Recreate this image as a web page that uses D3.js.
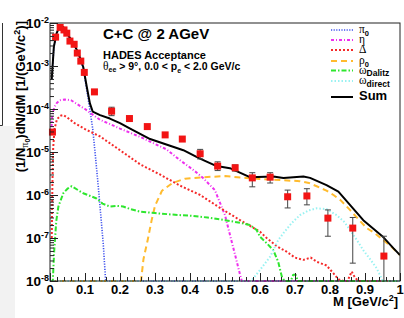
<!DOCTYPE html>
<html>
<head>
<meta charset="utf-8">
<script src="https://cdn.jsdelivr.net/npm/d3@7"></script>
<style>
  body { margin: 0; background: #fff; }
  svg { display: block; font-family: "Liberation Sans", Arial, Helvetica, sans-serif; font-weight: bold; }
  .gr { font-family: "Liberation Serif", "DejaVu Serif", serif; font-weight: normal; }
</style>
</head>
<body>
<svg id="chart" width="404" height="318"></svg>
<script>
'use strict';

// axis ticks
var xMajor = [0, 0.1, 0.2, 0.3, 0.4, 0.5, 0.6, 0.7, 0.8, 0.9, 1.0];
var yMajor = [1e-8, 1e-7, 1e-6, 1e-5, 1e-4, 1e-3, 1e-2];
var yExp   = ['-8', '-7', '-6', '-5', '-4', '-3', '-2'];

// measured spectrum (red squares)
var dataM  = [0.007, 0.016, 0.029, 0.040, 0.048, 0.057, 0.069, 0.078, 0.088, 0.098, 0.127, 0.176, 0.227,
              0.278, 0.329, 0.378, 0.429, 0.479, 0.529, 0.578, 0.629, 0.679, 0.734, 0.794, 0.865, 0.954];
var dataV  = [2.9e-5, 4.7e-3, 7.9e-3, 6.9e-3, 5.8e-3, 3.8e-3, 3.2e-3, 2.0e-3, 1.3e-3, 7.1e-4, 2.5e-4, 8.9e-5, 6.0e-5,
              3.9e-5, 2.5e-5, 2.0e-5, 9.1e-6, 4.7e-6, 4.3e-6, 2.5e-6, 2.6e-6, 9.1e-7, 9.5e-7, 2.9e-7, 1.7e-7, 3.8e-8];
var dataLo = [2.9e-5, 4.7e-3, 7.9e-3, 6.9e-3, 5.8e-3, 3.8e-3, 3.2e-3, 2.0e-3, 1.3e-3, 7.1e-4, 2.5e-4, 7.0e-5, 6.0e-5,
              3.9e-5, 2.5e-5, 2.0e-5, 6.9e-6, 3.7e-6, 3.6e-6, 1.55e-6, 1.9e-6, 5.0e-7, 5.9e-7, 1.1e-7, 2.6e-8, 1e-9];
var dataHi = [2.9e-5, 4.7e-3, 7.9e-3, 6.9e-3, 5.8e-3, 3.8e-3, 3.2e-3, 2.0e-3, 1.3e-3, 7.1e-4, 2.5e-4, 1.1e-4, 6.0e-5,
              3.9e-5, 2.5e-5, 2.0e-5, 1.15e-5, 5.9e-6, 5.0e-6, 3.3e-6, 3.3e-6, 1.3e-6, 1.4e-6, 4.5e-7, 3.0e-7, 1.1e-7];

// cocktail components
var pi0M = [0.005, 0.011, 0.019, 0.027, 0.038, 0.052, 0.067, 0.081, 0.095, 0.105, 0.114, 0.122, 0.129, 0.138, 0.152, 0.159, 1.0];
var pi0V = [4.9e-4, 2.75e-3, 5.6e-3, 7.9e-3, 7.9e-3, 5.1e-3, 3.3e-3, 1.95e-3, 8.9e-4, 2.8e-4, 9.5e-5, 3.5e-5, 9.3e-6, 1.55e-6, 7.6e-8, 1e-8, 1e-8];

var etaM = [0.003, 0.006, 0.012, 0.02, 0.03, 0.043, 0.06, 0.08, 0.1, 0.12, 0.143, 0.17, 0.2, 0.229, 0.26, 0.286,
            0.333, 0.371, 0.41, 0.437, 0.471, 0.5, 0.514, 0.529, 0.543, 0.548, 1.0];
var etaV = [2.5e-5, 6.3e-5, 1.1e-4, 1.4e-4, 1.6e-4, 1.66e-4, 1.6e-4, 1.26e-4, 1.0e-4, 7.6e-5, 5.6e-5, 4.5e-5, 3.5e-5, 2.8e-5, 2.2e-5, 1.74e-5,
            1.15e-5, 6.5e-6, 3.8e-6, 2.5e-6, 1.3e-6, 3.4e-7, 1.2e-7, 4e-8, 1.4e-8, 1e-8, 1e-8];

var deltaM = [0.005, 0.007, 0.009, 0.013, 0.02, 0.03, 0.038, 0.05, 0.07, 0.1, 0.143, 0.2, 0.257, 0.314, 0.371, 0.429,
              0.486, 0.543, 0.6, 0.619, 0.65, 0.676, 0.7, 0.724, 0.745, 0.762, 0.79, 0.81, 0.824, 0.838, 0.85, 0.862, 0.87, 0.88, 1.0];
var deltaV = [1e-7, 2e-6, 1.2e-5, 3.5e-5, 5.8e-5, 7.0e-5, 7.2e-5, 6.3e-5, 4.7e-5, 3.4e-5, 2.3e-5, 1.1e-5, 5.2e-6, 3.0e-6, 1.66e-6, 1.0e-6,
              5.0e-7, 2.6e-7, 1.4e-7, 1.0e-7, 6.3e-8, 4.8e-8, 3.5e-8, 3.1e-8, 3.5e-8, 2.8e-8, 2.3e-8, 1.5e-8, 1.1e-8, 1e-8, 1e-8, 1.66e-8, 1.26e-8, 1e-8, 1e-8];

var rhoM = [0.0, 0.26, 0.267, 0.279, 0.29, 0.3, 0.32, 0.35, 0.386, 0.44, 0.5, 0.56, 0.6, 0.667, 0.714, 0.74, 0.762,
            0.79, 0.81, 0.83, 0.857, 0.88, 0.905, 0.93, 0.952, 0.975, 1.0];
var rhoV = [1e-8, 1e-8, 3.2e-8, 8.9e-8, 2.5e-7, 5.6e-7, 1.26e-6, 1.9e-6, 2.4e-6, 2.6e-6, 2.75e-6, 2.5e-6, 2.35e-6, 2.2e-6, 2.1e-6, 1.9e-6, 1.6e-6,
            1.26e-6, 1.0e-6, 7.6e-7, 4.5e-7, 2.8e-7, 1.7e-7, 1.26e-7, 8.9e-8, 6.3e-8, 4.0e-8];

var omDalM = [0.0, 0.008, 0.012, 0.018, 0.024, 0.038, 0.05, 0.062, 0.08, 0.095, 0.115, 0.133, 0.15, 0.171, 0.19, 0.209, 0.23, 0.257,
              0.3, 0.35, 0.4, 0.45, 0.5, 0.55, 0.571, 0.59, 0.6, 0.619, 0.638, 0.652, 0.662, 0.67, 0.688, 0.695, 0.702, 0.708, 1.0];
var omDalV = [1e-8, 1e-8, 5e-8, 2.5e-7, 5.4e-7, 1.1e-6, 1.4e-6, 1.6e-6, 1.3e-6, 1.1e-6, 9.5e-7, 8.3e-7, 6.3e-7, 5.4e-7, 5.6e-7, 5.4e-7, 4.7e-7, 4.1e-7,
              3.8e-7, 3.5e-7, 3.3e-7, 3.0e-7, 2.6e-7, 2.2e-7, 2.0e-7, 1.55e-7, 1.07e-7, 7.6e-8, 5.2e-8, 2.8e-8, 1.3e-8, 1e-8, 1e-8, 1.4e-8, 1.4e-8, 1e-8, 1e-8];

var omDirM = [0.0, 0.575, 0.6, 0.629, 0.652, 0.667, 0.69, 0.714, 0.74, 0.762, 0.79, 0.819, 0.84, 0.857, 0.877, 0.895, 0.915, 0.933, 0.945, 0.95, 1.0];
var omDirV = [1e-8, 1e-8, 1.8e-8, 3.7e-8, 8.9e-8, 1.3e-7, 2.2e-7, 3.4e-7, 4.4e-7, 4.9e-7, 4.7e-7, 3.4e-7, 2.4e-7, 1.55e-7, 8.9e-8, 5.2e-8, 3.2e-8, 2.0e-8, 1.26e-8, 1e-8, 1e-8];

var sumM = [0.005, 0.011, 0.019, 0.027, 0.038, 0.052, 0.067, 0.081, 0.095, 0.105, 0.114, 0.122, 0.143, 0.171, 0.2, 0.229, 0.286,
            0.343, 0.381, 0.427, 0.476, 0.514, 0.571, 0.638, 0.667, 0.724, 0.743, 0.79, 0.824, 0.857, 0.895, 0.952, 0.981, 1.0];
var sumV = [5.0e-4, 2.8e-3, 5.8e-3, 8.1e-3, 8.1e-3, 5.2e-3, 3.4e-3, 2.0e-3, 9.5e-4, 3.3e-4, 1.35e-4, 8.7e-5, 7.2e-5, 6.0e-5, 4.7e-5, 3.5e-5, 2.0e-5,
            1.4e-5, 1.1e-5, 7.1e-6, 4.7e-6, 4.2e-6, 2.6e-6, 2.7e-6, 2.5e-6, 2.7e-6, 2.5e-6, 1.7e-6, 1.2e-6, 5.9e-7, 2.6e-7, 1.05e-7, 5.8e-8, 4.0e-8];

var series = [
  { m: pi0M,   v: pi0V,   color: '#3f52ee', width: 1.6, dash: '1.2,1.4',   label: ['\u03c0', '0'],      ly: 30 },
  { m: etaM,   v: etaV,   color: '#ee30ee', width: 2,   dash: '3,2,1,2',   label: ['\u03b7', ''],        ly: 40 },
  { m: deltaM, v: deltaV, color: '#f52a2a', width: 2,   dash: '2,2',       label: ['\u0394', ''],        ly: 50 },
  { m: rhoM,   v: rhoV,   color: '#ffbb2e', width: 2,   dash: '6,4',       label: ['\u03c1', '0'],      ly: 61 },
  { m: omDalM, v: omDalV, color: '#2ee62e', width: 2,   dash: '5,2,1.5,2', label: ['\u03c9', 'Dalitz'], ly: 70.5 },
  { m: omDirM, v: omDirV, color: '#99f2f2', width: 2,   dash: '1.5,2',     label: ['\u03c9', 'direct'], ly: 81 },
  { m: sumM,   v: sumV,   color: '#000',    width: 2,   dash: null,        label: ['Sum', ''],           ly: 97 }
];

var L = 50, R = 400, T = 23, B = 281;
var x = d3.scaleLinear().domain([0, 1]).range([L, R]);
var y = d3.scaleLog().domain([1e-8, 1e-2]).range([B, T]);

var svg = d3.select('#chart');

// bits of the neighbouring canvas left in the screenshot
svg.append('rect').attr('x', 0).attr('y', 126).attr('width', 15).attr('height', 192).attr('fill', '#f2f2f2');
svg.append('path').attr('d', 'M0,125.5H2.5V23').attr('fill', 'none').attr('stroke', '#333');

svg.append('clipPath').attr('id', 'plot').append('rect')
  .attr('x', L).attr('y', T - 1).attr('width', R - L).attr('height', B - T + 2);

var line = d3.line()
  .x(function(d) { return x(d[0]); })
  .y(function(d) { return y(Math.max(d[1], 1e-8)); });

var curves = svg.append('g').attr('clip-path', 'url(#plot)');
curves.selectAll('path.curve').data(series).enter().append('path')
  .attr('class', 'curve')
  .attr('d', function(s) { return line(s.m.map(function(m, i) { return [m, s.v[i]]; })); })
  .attr('fill', 'none')
  .attr('stroke', function(s) { return s.color; })
  .attr('stroke-width', function(s) { return s.width; })
  .attr('stroke-dasharray', function(s) { return s.dash; })
  .attr('stroke-linejoin', 'round');

// error bars
var pts = dataM.map(function(m, i) { return { m: m, v: dataV[i], lo: dataLo[i], hi: dataHi[i] }; });
var bars = curves.selectAll('g.err').data(pts.filter(function(p) { return p.hi > p.v; }))
  .enter().append('g').attr('class', 'err').attr('stroke', '#444').attr('stroke-width', 1);
bars.append('line')
  .attr('x1', function(p) { return x(p.m); }).attr('x2', function(p) { return x(p.m); })
  .attr('y1', function(p) { return y(p.hi); }).attr('y2', function(p) { return y(Math.max(p.lo, 1e-9)); });
bars.append('line')
  .attr('x1', function(p) { return x(p.m) - 3; }).attr('x2', function(p) { return x(p.m) + 3; })
  .attr('y1', function(p) { return y(p.hi); }).attr('y2', function(p) { return y(p.hi); });
bars.filter(function(p) { return p.lo > 1e-8; }).append('line')
  .attr('x1', function(p) { return x(p.m) - 3; }).attr('x2', function(p) { return x(p.m) + 3; })
  .attr('y1', function(p) { return y(p.lo); }).attr('y2', function(p) { return y(p.lo); });

svg.selectAll('rect.pt').data(pts).enter().append('rect')
  .attr('class', 'pt')
  .attr('x', function(p) { return x(p.m) - 3.5; })
  .attr('y', function(p) { return y(p.v) - 3.5; })
  .attr('width', 7).attr('height', 7)
  .attr('fill', '#f21414');

// frame and ticks
svg.append('rect').attr('x', L).attr('y', T).attr('width', R - L).attr('height', B - T)
  .attr('fill', 'none').attr('stroke', '#222').attr('stroke-width', 1);

var xMinor = d3.range(0, 50).map(function(i) { return i * 0.02; }).filter(function(v, i) { return i % 5; });
var yMinor = [];
yMajor.slice(0, -1).forEach(function(d) { for (var k = 2; k < 10; k++) yMinor.push(d * k); });

function ticks(axis, tr) {
  var g = svg.append('g').attr('transform', tr).call(axis);
  g.select('.domain').remove();
  g.selectAll('line').attr('stroke', '#222');
}
ticks(d3.axisTop(x).tickValues(xMajor).tickSize(8).tickFormat(''), 'translate(0,' + B + ')');
ticks(d3.axisTop(x).tickValues(xMinor).tickSize(4).tickFormat(''), 'translate(0,' + B + ')');
ticks(d3.axisRight(y).tickValues(yMajor).tickSize(8).tickFormat(''), 'translate(' + L + ',0)');
ticks(d3.axisRight(y).tickValues(yMinor).tickSize(4).tickFormat(''), 'translate(' + L + ',0)');

// tick labels
svg.selectAll('text.xl').data(xMajor).enter().append('text')
  .attr('class', 'xl')
  .attr('x', function(d) { return x(d); }).attr('y', 293.5)
  .attr('text-anchor', 'middle').attr('font-size', 13)
  .text(function(d) { return d === 0 ? '0' : d === 1 ? '1' : d.toFixed(1); });

var yl = svg.selectAll('text.yl').data(yMajor).enter().append('text')
  .attr('class', 'yl')
  .attr('x', 49).attr('y', function(d) { return y(d) + 5; })
  .attr('text-anchor', 'end').attr('font-size', 13.5);
yl.append('tspan').text('10');
yl.append('tspan').attr('dy', -5.5).attr('font-size', 9).text(function(d, i) { return yExp[i]; });

// axis titles
var xt = svg.append('text').attr('x', 398).attr('y', 305.5).attr('text-anchor', 'end').attr('font-size', 13);
xt.append('tspan').text('M [GeV/c');
xt.append('tspan').attr('dy', -5).attr('font-size', 9).text('2');
xt.append('tspan').attr('dy', 5).text(']');

var yt = svg.append('text').attr('transform', 'translate(25,21) rotate(-90)')
  .attr('text-anchor', 'end').attr('font-size', 13);
yt.append('tspan').text('(1/N');
yt.append('tspan').attr('class', 'gr').attr('dy', 3).attr('font-size', 10).text('\u03c0');
yt.append('tspan').attr('dy', 2).attr('font-size', 7).text('0');
yt.append('tspan').attr('dy', -5).text(')dN/dM [1/(GeV/c');
yt.append('tspan').attr('dy', -5).attr('font-size', 9).text('2');
yt.append('tspan').attr('dy', 5).text(')]');

// header text
svg.append('text').attr('x', 103).attr('y', 39).attr('font-size', 15).text('C+C @ 2 AGeV');
svg.append('text').attr('x', 103).attr('y', 59).attr('font-size', 11).text('HADES Acceptance');
var cut = svg.append('text').attr('x', 103).attr('y', 69.5).attr('font-size', 10.5);
cut.append('tspan').attr('class', 'gr').attr('font-size', 11.5).text('\u03b8');
cut.append('tspan').attr('dy', 2.5).attr('font-size', 7).text('ee');
cut.append('tspan').attr('dy', -2.5).text(' > 9\u00b0, 0.0 < p');
cut.append('tspan').attr('dy', 3).attr('font-size', 7).text('e');
cut.append('tspan').attr('dy', -3).text(' < 2.0 GeV/c');

// legend
var leg = svg.selectAll('g.leg').data(series).enter().append('g').attr('class', 'leg');
leg.append('line')
  .attr('x1', 331).attr('x2', 353)
  .attr('y1', function(s) { return s.ly; }).attr('y2', function(s) { return s.ly; })
  .attr('stroke', function(s) { return s.color; })
  .attr('stroke-width', function(s) { return s.width; })
  .attr('stroke-dasharray', function(s) { return s.dash; });
var lt = leg.append('text').attr('x', 359).attr('y', function(s) { return s.ly + 3; });
lt.append('tspan')
  .attr('class', function(s) { return s.label[0] === 'Sum' ? null : 'gr'; })
  .attr('font-size', function(s) { return s.label[0] === 'Sum' ? 13 : 11.5; })
  .text(function(s) { return s.label[0]; });
lt.append('tspan').attr('dy', 2.5).attr('font-size', function(s) { return s.label[1] === '0' ? 7.5 : 8.5; })
  .text(function(s) { return s.label[1]; });
</script>
</body>
</html>
